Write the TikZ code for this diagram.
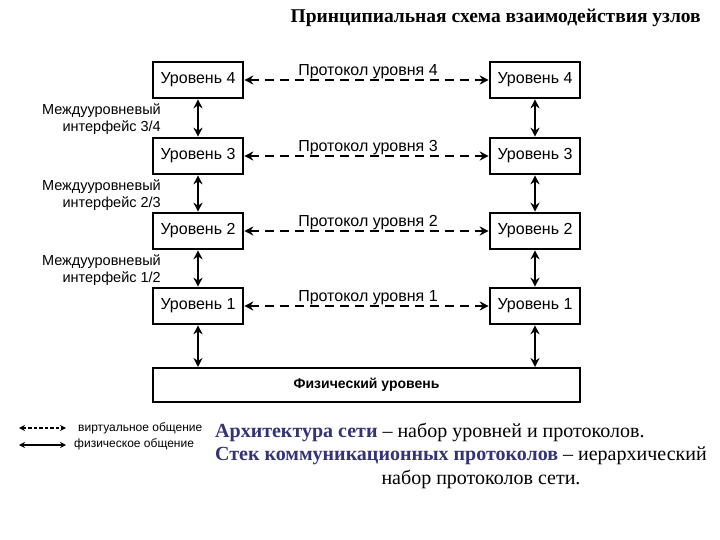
\documentclass[tikz,border=0pt]{standalone}
\usepackage{fontspec}
\setmainfont{Liberation Serif}
\newfontfamily\sansf{Liberation Sans}
\usetikzlibrary{arrows.meta}
\definecolor{navy}{HTML}{333375}
\begin{document}
\begin{tikzpicture}[x=1pt,y=-1pt,
  lvl/.style={draw,line width=2.6pt,minimum width=90pt,minimum height=36pt,font=\sansf\fontsize{16}{16}\selectfont,inner sep=0pt},
  phys/.style={{Stealth[length=9pt,width=9pt]}-{Stealth[length=9pt,width=9pt]},line width=2pt},
  virt/.style={phys,dash pattern=on 9pt off 6pt,line width=2.4pt},
  lab/.style={font=\sansf\fontsize{14.5}{17}\selectfont,align=right,anchor=east,inner sep=0pt},
  plab/.style={font=\sansf\fontsize{16}{16}\selectfont,inner sep=0pt}]
\useasboundingbox (0,0) rectangle (720,540);
\node[font=\bfseries\fontsize{19.5}{20}\selectfont,anchor=east,inner sep=0pt] (t) at (701,18) {Принципиальная схема взаимодействия узлов};
\foreach \i/\y in {4/80,3/156,2/231,1/306}{
  \node[lvl] (L\i) at (198,\y) {Уровень \i};
  \node[lvl] (R\i) at (535,\y) {Уровень \i};
  \draw[virt] (L\i) -- (R\i);
  \node[plab] (P\i) at (368,\y-8) {Протокол уровня \i};
}
\node[draw,line width=2.6pt,minimum width=427pt,minimum height=34pt,font=\sansf\bfseries\fontsize{14}{14}\selectfont] (F) at (366.5,385) {Физический уровень};
\foreach \a/\b in {4/3,3/2,2/1}{
  \draw[phys] (L\a) -- (L\b);
  \draw[phys] (R\a) -- (R\b);
}
\coordinate (fl) at (198,367); \coordinate (fr) at (535,367);
\draw[phys] (L1) -- (fl);
\draw[phys] (R1) -- (fr);
\node[lab] (i34) at (161,119) {Междууровневый\\интерфейс 3/4};
\node[lab] (i23) at (161,195) {Междууровневый\\интерфейс 2/3};
\node[lab] (i12) at (161,270) {Междууровневый\\интерфейс 1/2};
\coordinate (a1) at (19,428); \coordinate (a2) at (66,428);
\coordinate (b1) at (19,445); \coordinate (b2) at (66,445);
\draw[{Stealth[length=6pt,width=6pt]}-{Stealth[length=6pt,width=6pt]},line width=1.3pt,dash pattern=on 3.5pt off 2pt] (a1) -- (a2);
\draw[{Stealth[length=6pt,width=6pt]}-{Stealth[length=6pt,width=6pt]},line width=1.5pt] (b1) -- (b2);
\node[font=\sansf\fontsize{12}{12}\selectfont,anchor=west,inner sep=0pt] (v) at (78,428) {виртуальное общение};
\node[font=\sansf\fontsize{12}{12}\selectfont,anchor=west,inner sep=0pt] (f) at (74,444) {физическое общение};
\node[font=\fontsize{20}{20}\selectfont,anchor=west,inner sep=0pt] (s1) at (215,432) {\textcolor{navy}{\bfseries Архитектура сети} – набор уровней и протоколов.};
\node[font=\fontsize{20}{20}\selectfont,anchor=west,inner sep=0pt] (s2) at (215,456) {\textcolor{navy}{\bfseries Стек коммуникационных протоколов} – иерархический};
\node[font=\fontsize{20}{20}\selectfont,inner sep=0pt] (s3) at (481,479) {набор протоколов сети.};
\end{tikzpicture}
\end{document}
